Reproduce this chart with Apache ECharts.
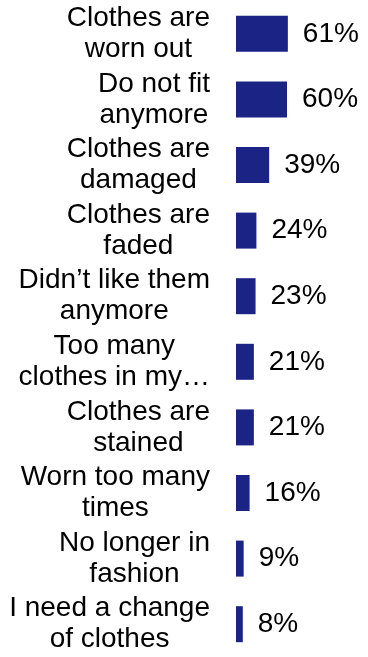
<!DOCTYPE html>
<html>
<head>
<meta charset="utf-8">
<script src="https://cdn.jsdelivr.net/npm/echarts@6/dist/echarts.min.js"></script>
<style>
html,body{margin:0;padding:0;background:#fff;}
#chart{width:368px;height:657px;}
</style>
</head>
<body>
<div id="chart"></div>
<script>
var categories = [
  "Clothes are\nworn out",
  "Do not fit\nanymore",
  "Clothes are\ndamaged",
  "Clothes are\nfaded",
  "Didn\u2019t like them\nanymore",
  "Too many\nclothes in my\u2026",
  "Clothes are\nstained",
  "Worn too many\ntimes",
  "No longer in\nfashion",
  "I need a change\nof clothes"
];
var values = [61, 60, 39, 24, 23, 21, 21, 16, 9, 8];

var chart = echarts.init(document.getElementById('chart'));
var FONT = '"Liberation Sans", Arial, sans-serif';
chart.setOption({
  animation: false,
  backgroundColor: '#ffffff',
  grid: { left: 236, top: 1, width: 85, height: 661, containLabel: false },
  xAxis: {
    type: 'value', min: 0, max: 100, show: false
  },
  yAxis: {
    type: 'category',
    data: categories,
    inverse: true,
    axisLine: { show: false },
    axisTick: { show: false },
    splitLine: { show: false },
    axisLabel: {
      margin: 26,
      formatter: function (v) {
        return v.split('\n').map(function (l) { return '{c|' + l + '}'; }).join('\n');
      },
      rich: {
        c: {
          align: 'center',
          fontSize: 28,
          lineHeight: 31,
          fontFamily: FONT,
          color: '#000000'
        }
      }
    }
  },
  series: [{
    type: 'bar',
    data: values,
    barWidth: 36,
    itemStyle: { color: '#1b2385' },
    label: {
      show: true,
      position: 'right',
      distance: 15,
      formatter: '{c}%',
      fontSize: 28,
      fontFamily: FONT,
      color: '#000000'
    }
  }]
});
</script>
</body>
</html>
